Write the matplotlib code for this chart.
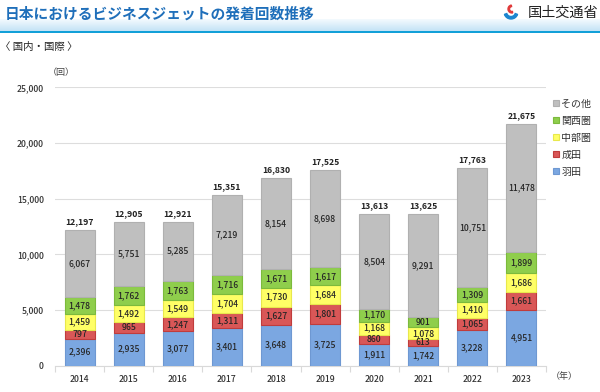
import numpy as np
import matplotlib
matplotlib.use("Agg")
import matplotlib.pyplot as plt
from matplotlib.patches import Rectangle, Wedge

plt.rcParams['font.family'] = ['Noto Sans CJK JP', 'DejaVu Sans']

years = ['2014', '2015', '2016', '2017', '2018', '2019', '2020', '2021', '2022', '2023']
haneda = [2396, 2935, 3077, 3401, 3648, 3725, 1911, 1742, 3228, 4951]
narita = [797, 965, 1247, 1311, 1627, 1801, 860, 613, 1065, 1661]
chubu = [1459, 1492, 1549, 1704, 1730, 1684, 1168, 1078, 1410, 1686]
kansai = [1478, 1762, 1763, 1716, 1671, 1617, 1170, 901, 1309, 1899]
other = [6067, 5751, 5285, 7219, 8154, 8698, 8504, 9291, 10751, 11478]
totals = [12197, 12905, 12921, 15351, 16830, 17525, 13613, 13625, 17763, 21675]

series_names = ['羽田', '成田', '中部圏', '関西圏', 'その他']
series_vals = [haneda, narita, chubu, kansai, other]
face_colors = ['#7ba7e1', '#d95757', '#ffff66', '#8fce4c', '#bfbfbf']
edge_colors = ['#6e98d2', '#c03c3c', '#e8e84c', '#7cba3c', '#b0b0b0']

fig = plt.figure(figsize=(6.0, 3.92), dpi=100)

# header band
band = fig.add_axes([0, 1 - 31 / 392, 1, 12 / 392])
grad = np.linspace(0, 1, 50).reshape(-1, 1)
band.imshow(grad, aspect='auto', cmap=matplotlib.colors.LinearSegmentedColormap.from_list(
    'b', ['#f4fafe', '#c4e3f6']), extent=[0, 1, 0, 1], origin='upper')
band.axis('off')
fig.add_artist(Rectangle((0, 1 - 33 / 392), 1, 2.5 / 392, transform=fig.transFigure,
                         color='#12a0d8', lw=0))

fig.text(0.008, 1 - 14 / 392, '日本におけるビジネスジェットの発着回数推移', fontsize=10.6,
         fontweight='bold', color='#1f6fba', va='center', ha='left', zorder=5)
fig.text(0.997, 1 - 13 / 392, '国土交通省', fontsize=10.2, color='#222222',
         va='center', ha='right', zorder=5)
# logo mark
fig.add_artist(Wedge((511, 392 - 12), 7, 200, 340, width=2.5, color='#1b86cf',
                     transform=None))
fig.add_artist(Wedge((512, 392 - 9), 4, 100, 280, width=1.5, color='#e03a3a',
                     transform=None))

fig.text(0.0, 1 - 47 / 392, '〈 国内・国際 〉', fontsize=7.5, color='#222222',
         va='center', ha='left')

ax = fig.add_axes([55 / 600, 1 - 365.5 / 392, 491 / 600, (365.5 - 87.3) / 392])
x = np.arange(len(years))
bottom = np.zeros(len(years))
handles = []
for name, vals, fc, ec in zip(series_names, series_vals, face_colors, edge_colors):
    vals = np.array(vals)
    b = ax.bar(x, vals, width=0.61, bottom=bottom, color=fc, edgecolor=ec,
               linewidth=0.8, label=name, zorder=3)
    handles.append(b)
    for xi, v, b0 in zip(x, vals, bottom):
        ax.text(xi, b0 + v / 2, f'{v:,}', ha='center', va='center', fontsize=6.2,
                fontweight='medium', color='#262626', zorder=4)
    bottom += vals

for xi, t in zip(x, totals):
    ax.text(xi, t + 350, f'{t:,}', ha='center', va='bottom', fontsize=6.2,
            fontweight='bold', color='#222222')

ax.set_xlim(-0.5, len(years) - 0.5)
ax.set_ylim(0, 25000)
ax.set_yticks(np.arange(0, 25001, 5000))
ax.set_yticklabels([f'{v:,}' for v in range(0, 25001, 5000)])
ax.set_xticks(x)
ax.set_xticklabels(years)
ax.set_xticks(np.arange(-0.5, len(years), 1), minor=True)
ax.tick_params(axis='x', which='major', length=0, labelsize=6.2, colors='#333333', pad=7)
ax.tick_params(axis='x', which='minor', length=4, color='#d9d9d9', width=0.8)
ax.tick_params(axis='y', length=0, labelsize=6.2, colors='#333333', pad=8)
for lbl in ax.get_xticklabels() + ax.get_yticklabels():
    lbl.set_fontweight('medium')
ax.grid(axis='y', color='#dddddd', linewidth=0.8, zorder=0)
for s in ['top', 'right', 'left']:
    ax.spines[s].set_visible(False)
ax.spines['bottom'].set_color('#d9d9d9')
ax.spines['bottom'].set_linewidth(0.8)

fig.text(48 / 600, 1 - 72 / 392, '（回）', fontsize=6.5, color='#444444', va='center', ha='left')
fig.text(551 / 600, 1 - 376 / 392, '（年）', fontsize=6.5, color='#444444', va='center', ha='left')

leg = ax.legend(handles[::-1], series_names[::-1], loc='upper left',
                bbox_to_anchor=(549 / 600, 1 - 95 / 392), bbox_transform=fig.transFigure,
                frameon=False, fontsize=7.2, handlelength=0.55, handleheight=0.55,
                handletextpad=0.3, labelspacing=0.7, borderaxespad=0)
for t in leg.get_texts():
    t.set_color('#333333')

fig.savefig('out.png', dpi=100)
